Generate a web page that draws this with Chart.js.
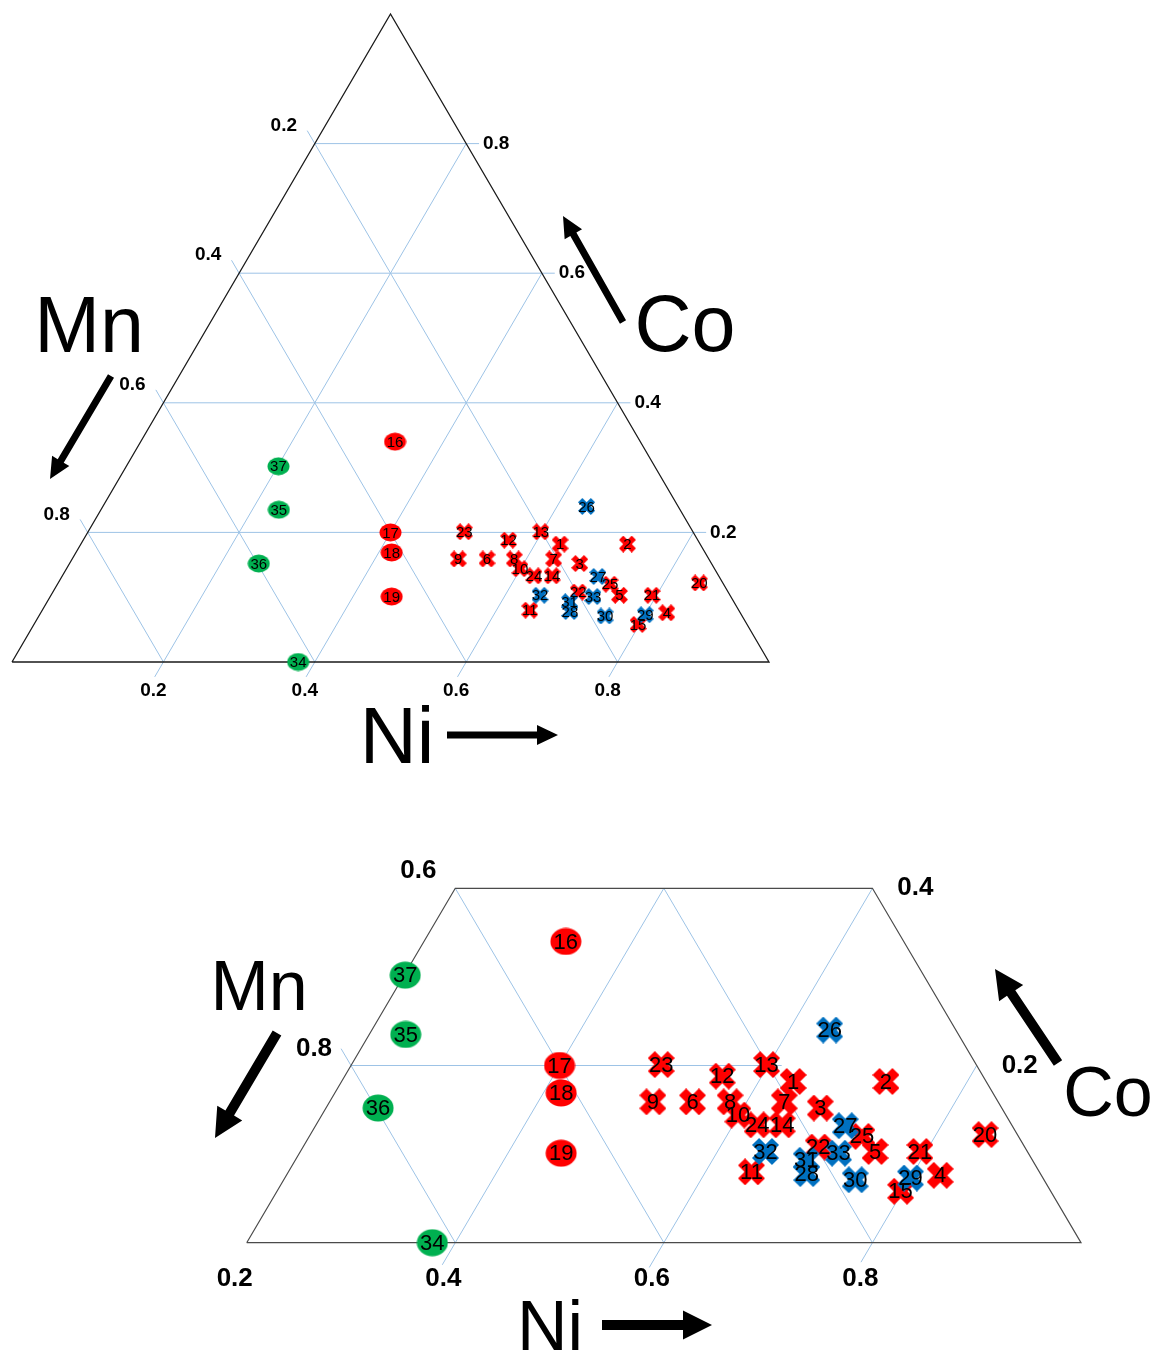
<!DOCTYPE html>
<html>
<head>
<meta charset="utf-8">
<script src="https://cdn.jsdelivr.net/npm/chart.js@4/dist/chart.umd.min.js"></script>
<style>
  html, body { margin: 0; padding: 0; background: #fff; }
  #wrap { position: relative; width: 1153px; height: 1354px; overflow: hidden; }
  canvas { position: absolute; left: 0; }
</style>
</head>
<body>
<div id="wrap">
  <canvas id="fullChart" width="1153" height="780" style="top:0"></canvas>
  <canvas id="zoomChart" width="1153" height="574" style="top:780px"></canvas>
</div>
<script>
// sample numbers and compositions (Ni, Co); Mn = 1 - Ni - Co
const redCrossIds = ['1', '2', '3', '4', '5', '6', '7', '8', '9', '10', '11', '12', '13', '14', '15', '20', '21', '22', '23', '24', '25']
const redCrossNi = [0.633, 0.722, 0.674, 0.827, 0.751, 0.548, 0.636, 0.584, 0.510, 0.599, 0.644, 0.562, 0.598, 0.647, 0.798, 0.847, 0.794, 0.694, 0.497, 0.623, 0.730]
const redCrossCo = [0.182, 0.182, 0.152, 0.076, 0.103, 0.159, 0.159, 0.159, 0.159, 0.144, 0.080, 0.188, 0.201, 0.133, 0.058, 0.122, 0.103, 0.108, 0.201, 0.133, 0.120]

const blueCrossIds = ['26', '27', '28', '29', '30', '31', '32', '33']
const blueCrossNi = [0.639, 0.708, 0.698, 0.800, 0.748, 0.690, 0.646, 0.717]
const blueCrossCo = [0.240, 0.132, 0.078, 0.073, 0.071, 0.093, 0.103, 0.101]

const redCircleIds = ['16', '17', '18', '19']
const redCircleNi = [0.336, 0.400, 0.417, 0.451]
const redCircleCo = [0.340, 0.200, 0.169, 0.101]

const greenCircleIds = ['34', '35', '36', '37']
const greenCircleNi = [0.378, 0.235, 0.250, 0.201]
const greenCircleCo = [0.000, 0.235, 0.152, 0.302]

// axis ticks
const gridTicks = [0.2, 0.4, 0.6, 0.8]
const gridTickLabels = ['0.2', '0.4', '0.6', '0.8']
// zoomed panel: tick labels as printed in the figure
const zoomNiTicks = [0.2, 0.4, 0.6, 0.8]
const zoomNiLabels = ['0.2', '0.4', '0.6', '0.8']
const zoomMnTicks = [0.4, 0.6]
const zoomMnLabels = ['0.6', '0.8']
const zoomCoTicks = [0.4, 0.2]
const zoomCoLabels = ['0.4', '0.2']

const FONT = '"Liberation Sans", Arial, sans-serif'
const GRID = '#9dc3e6'

// ternary -> cartesian (x = Ni + Co/2, y = Co)
const tern = (ni, co) => ({ x: ni + co / 2, y: co })

function crossImg(size, thick, color) {
  const c = document.createElement('canvas')
  c.width = size
  c.height = size
  const g = c.getContext('2d')
  const arm = size * Math.SQRT2 - thick
  g.translate(size / 2, size / 2)
  g.rotate(Math.PI / 4)
  g.fillStyle = color
  g.fillRect(-arm / 2, -thick / 2, arm, thick)
  g.fillRect(-thick / 2, -arm / 2, thick, arm)
  return c
}

function ellipseImg(w, h, color) {
  const c = document.createElement('canvas')
  c.width = w
  c.height = h
  const g = c.getContext('2d')
  g.fillStyle = color
  g.beginPath()
  g.ellipse(w / 2, h / 2, w / 2 - 0.5, h / 2 - 0.5, 0, 0, Math.PI * 2)
  g.fill()
  return c
}

function markers(ids, ni, co, style, order) {
  return {
    ids: ids,
    data: ni.map((n, i) => tern(n, co[i])),
    pointStyle: style,
    pointRadius: 10,
    pointHoverRadius: 10,
    order: order,
    clip: false,
  }
}

function polyline(points, color, width, order) {
  return {
    data: points,
    showLine: true,
    borderColor: color,
    borderWidth: width,
    pointRadius: 0,
    pointHoverRadius: 0,
    fill: false,
    clip: false,
    order: order,
  }
}

function arrow(ctx, x1, y1, x2, y2, shaft, headLen, headW) {
  const a = Math.atan2(y2 - y1, x2 - x1)
  const len = Math.hypot(x2 - x1, y2 - y1)
  ctx.save()
  ctx.translate(x1, y1)
  ctx.rotate(a)
  ctx.fillStyle = '#000'
  ctx.beginPath()
  ctx.moveTo(0, -shaft / 2)
  ctx.lineTo(len - headLen, -shaft / 2)
  ctx.lineTo(len - headLen, -headW / 2)
  ctx.lineTo(len, 0)
  ctx.lineTo(len - headLen, headW / 2)
  ctx.lineTo(len - headLen, shaft / 2)
  ctx.lineTo(0, shaft / 2)
  ctx.closePath()
  ctx.fill()
  ctx.restore()
}

// labels, tick texts, titles and arrows
const decoPlugin = {
  id: 'deco',
  afterDatasetsDraw(chart, args, opts) {
    const ctx = chart.ctx
    const xs = chart.scales.x
    const ys = chart.scales.y
    ctx.save()
    ctx.fillStyle = '#000'
    ctx.textAlign = 'center'
    ctx.textBaseline = 'middle'

    ctx.font = opts.labelFont
    chart.data.datasets.forEach((ds, i) => {
      if (!ds.ids) return
      chart.getDatasetMeta(i).data.forEach((el, j) => {
        ctx.fillText(ds.ids[j], el.x, el.y + 1)
      })
    })

    ctx.font = opts.tickFont
    opts.ticks.forEach(t => {
      const p = tern(t.ni, t.co)
      ctx.fillText(t.text, xs.getPixelForValue(p.x) + t.dx, ys.getPixelForValue(p.y) + t.dy)
    })

    ctx.textBaseline = 'alphabetic'
    opts.titles.forEach(t => {
      ctx.font = t.size + 'px ' + FONT
      ctx.fillText(t.text, t.x, t.y)
    })

    opts.arrows.forEach(a => arrow(ctx, a[0], a[1], a[2], a[3], opts.shaft, opts.headLen, opts.headW))
    ctx.restore()
  },
}

function baseOptions(padding, xMin, xMax, yMin, yMax, deco) {
  return {
    responsive: false,
    animation: false,
    events: [],
    layout: { padding: padding },
    scales: {
      x: { type: 'linear', min: xMin, max: xMax, display: false },
      y: { type: 'linear', min: yMin, max: yMax, display: false },
    },
    plugins: { legend: { display: false }, tooltip: { enabled: false }, deco: deco },
  }
}

// ---------- full triangle ----------
const fullLines = []
gridTicks.forEach(t => {
  fullLines.push(polyline([tern(0, t), tern(1 - t + 0.017, t)], GRID, 1, 10))           // Co
  fullLines.push(polyline([tern(t, -0.023), tern(t, 1 - t)], GRID, 1, 10))              // Ni
  fullLines.push(polyline([tern(-0.02, 1 - t + 0.02), tern(1 - t, 0)], GRID, 1, 10))    // Mn
})
fullLines.push(polyline([tern(0, 0), tern(1, 0), tern(0, 1), tern(0, 0)], '#1a1a1a', 1.3, 9))

const fullTicks = []
gridTicks.forEach((t, i) => {
  fullTicks.push({ text: gridTickLabels[i], ni: t, co: 0, dx: -10, dy: 29 })
  fullTicks.push({ text: gridTickLabels[i], ni: 0, co: 1 - t, dx: -31, dy: -18 })
  fullTicks.push({ text: gridTickLabels[i], ni: 1 - t, co: t, dx: 30, dy: 0 })
})

new Chart(document.getElementById('fullChart'), {
  type: 'scatter',
  data: {
    datasets: [
      markers(blueCrossIds, blueCrossNi, blueCrossCo, crossImg(17, 6, '#0070c0'), 0),
      markers(redCrossIds, redCrossNi, redCrossCo, crossImg(17, 6, '#ff0000'), 1),
      markers(redCircleIds, redCircleNi, redCircleCo, ellipseImg(23, 19, '#ff0000'), 2),
      markers(greenCircleIds, greenCircleNi, greenCircleCo, ellipseImg(23, 19, '#00b050'), 3),
      ...fullLines,
    ],
  },
  options: baseOptions({ left: 12, right: 384, top: 14, bottom: 118 }, 0, 1, 0, 1, {
    labelFont: '15px ' + FONT,
    tickFont: 'bold 19px ' + FONT,
    ticks: fullTicks,
    titles: [
      { text: 'Mn', x: 89, y: 352, size: 79 },
      { text: 'Co', x: 685, y: 351, size: 79 },
      { text: 'Ni', x: 397, y: 763, size: 79 },
    ],
    arrows: [[111, 376, 50, 479], [623, 322, 563, 216], [447, 735, 558, 735]],
    shaft: 7, headLen: 21, headW: 20,
  }),
  plugins: [decoPlugin],
})

// ---------- zoomed part ----------
const zoomLines = [
  polyline([tern(0.2, 0.2), tern(0.6 + 0.013, 0.2)], GRID, 1, 10),
  polyline([tern(0.4, -0.025), tern(0.4, 0.4)], GRID, 1, 10),
  polyline([tern(0.6, -0.028), tern(0.6, 0.4)], GRID, 1, 10),
  polyline([tern(0.8, -0.022), tern(0.8, 0.2)], GRID, 1, 10),
  polyline([tern(0.4, 0.4), tern(0.8, 0)], GRID, 1, 10),
  polyline([tern(0.2, 0.4), tern(0.6, 0)], GRID, 1, 10),
  polyline([tern(0.2 - 0.019, 0.2 + 0.019), tern(0.4, 0)], GRID, 1, 10),
  polyline([tern(0.2, 0), tern(1, 0), tern(0.6, 0.4), tern(0.2, 0.4), tern(0.2, 0)], '#4a4a4a', 1.2, 9),
]

const zoomTicks = []
zoomNiTicks.forEach((t, i) => zoomTicks.push({ text: zoomNiLabels[i], ni: t, co: 0, dx: -12, dy: 36 }))
zoomMnTicks.forEach((t, i) => zoomTicks.push({ text: zoomMnLabels[i], ni: 0.2, co: 1 - 0.2 - t, dx: -37, dy: -17 }))
zoomCoTicks.forEach((t, i) => zoomTicks.push({ text: zoomCoLabels[i], ni: 1 - t, co: t, dx: 43, dy: 0 }))

new Chart(document.getElementById('zoomChart'), {
  type: 'scatter',
  data: {
    datasets: [
      markers(blueCrossIds, blueCrossNi, blueCrossCo, crossImg(27, 10, '#0070c0'), 0),
      markers(redCrossIds, redCrossNi, redCrossCo, crossImg(27, 10, '#ff0000'), 1),
      markers(redCircleIds, redCircleNi, redCircleCo, ellipseImg(32, 28, '#ff0000'), 2),
      markers(greenCircleIds, greenCircleNi, greenCircleCo, ellipseImg(32, 28, '#00b050'), 3),
      ...zoomLines,
    ],
  },
  options: baseOptions({ left: 246.7, right: 72, top: 108.3, bottom: 111.3 }, 0.2, 1.0, 0, 0.4, {
    labelFont: '22px ' + FONT,
    tickFont: 'bold 26px ' + FONT,
    ticks: zoomTicks,
    titles: [
      { text: 'Mn', x: 259, y: 230, size: 70 },
      { text: 'Co', x: 1108, y: 336, size: 70 },
      { text: 'Ni', x: 550, y: 570, size: 70 },
    ],
    arrows: [[277, 253, 215, 358], [1058, 283, 995, 189], [602, 545, 712, 545]],
    shaft: 10, headLen: 29, headW: 29,
  }),
  plugins: [decoPlugin],
})
</script>
</body>
</html>
